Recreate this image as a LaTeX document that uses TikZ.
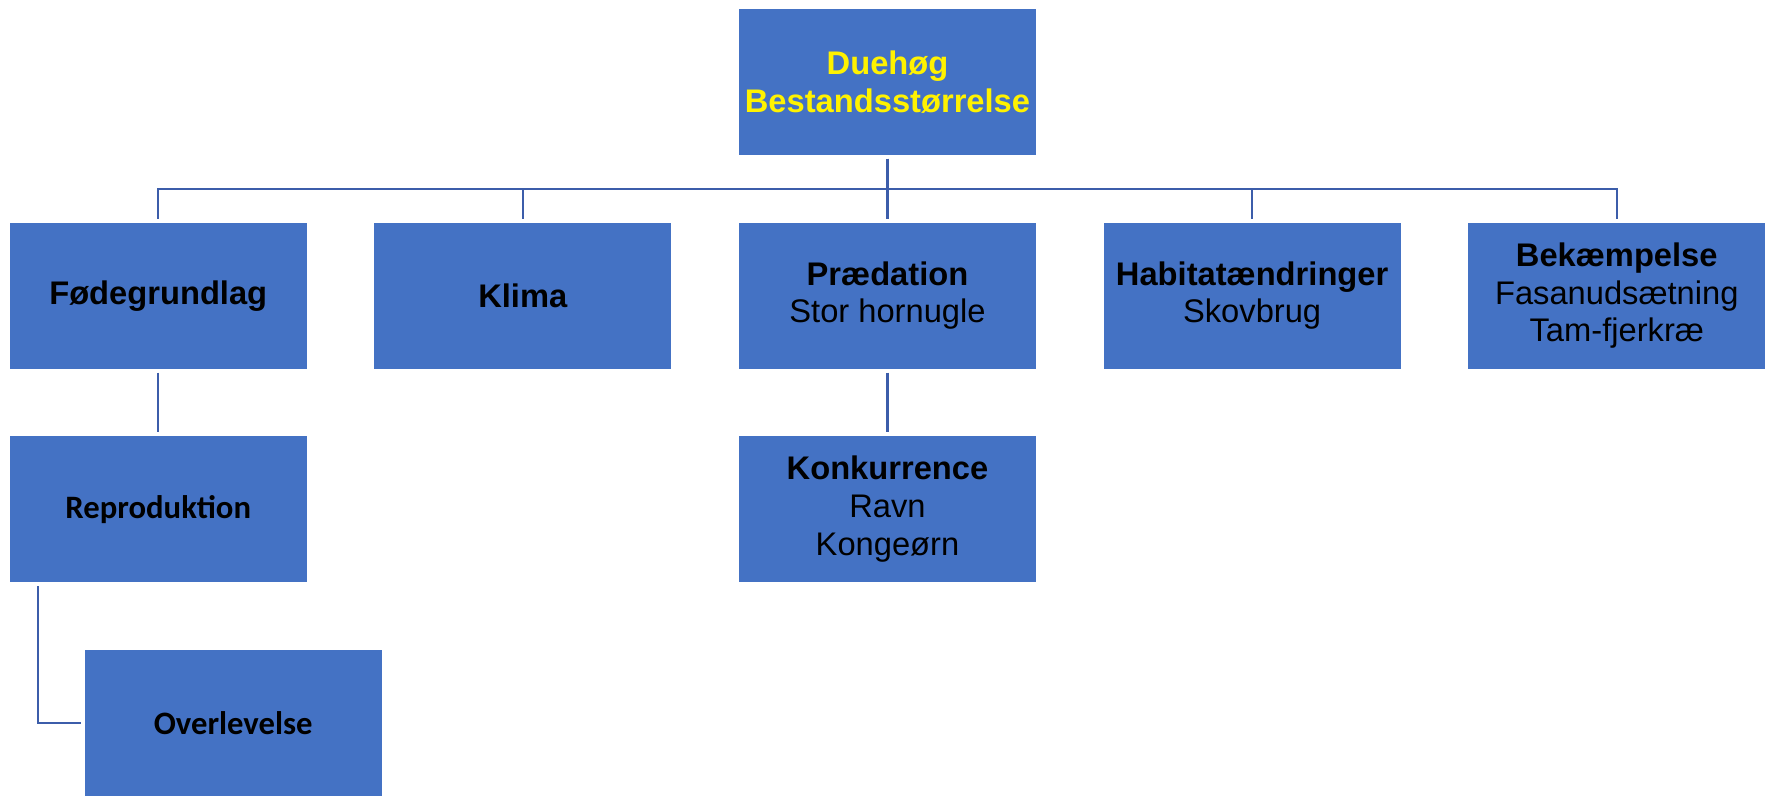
\documentclass[tikz,border=0pt]{standalone}
\usepackage{fontspec}
\setmainfont{Liberation Sans}
\newfontfamily\calibri{Carlito}
\usepackage{tikz}
\usetikzlibrary{positioning}
\definecolor{boxblue}{HTML}{4472C4}
\definecolor{lineblue}{HTML}{3C5DAA}
\tikzstyle{box} = [rectangle, minimum width=5.96cm, minimum height=2.94cm, fill=boxblue, draw=white, line width=0.5pt, align=center, inner sep=0pt, font=\fontsize{18.6}{21.5}\selectfont]
\tikzstyle{title} = [text=yellow, font=\fontsize{18.6}{21.5}\selectfont\bfseries]
\tikzstyle{cal} = [font=\fontsize{18.6}{21.5}\selectfont\calibri\bfseries]
\tikzstyle{link} = [draw=lineblue, line width=1.2pt, shorten <=1.7pt, shorten >=1.7pt]

\begin{document}
\begin{tikzpicture}[node distance=1.315cm]
                                \useasboundingbox (0,0) rectangle (35.3,-15.9);
                                \node (0) [box, title] at (17.75,-1.64) {Duehøg\\Bestandsstørrelse};
                                \node (3) [box, below = of 0] {\textbf{Prædation}\\Stor hornugle};
                                \node (2) [box, left = of 3] {\textbf{Klima}};
                                \node (1) [box, left = of 2] {\textbf{Fødegrundlag}};
                                \node (4) [box, right = of 3] {\textbf{Habitatændringer}\\Skovbrug};
                                \node (5) [box, right = of 4] {\textbf{Bekæmpelse}\\Fasanudsætning\\Tam-fjerkræ};
                                \node (6) [box, cal, below = of 1] {Reproduktion};
                                \node (7) [box, below = of 3] {\textbf{Konkurrence}\\Ravn\\Kongeørn};
                                \node (8) [box, cal, below = of 6, xshift=1.5cm] {Overlevelse};
                                \draw [link] (0.south) -- ++(0,-0.66) -| (1.north);
                                \draw [link] (0.south) -- ++(0,-0.66) -| (2.north);
                                \draw [link] (0.south) -- (3.north);
                                \draw [link] (0.south) -- ++(0,-0.66) -| (4.north);
                                \draw [link] (0.south) -- ++(0,-0.66) -| (5.north);
                                \draw [link] (1.south) -- (6.north);
                                \draw [link] (3.south) -- (7.north);
                                \draw [link] ([xshift=0.58cm]6.south west) |- (8.west);
                            \end{tikzpicture}
\end{document}
